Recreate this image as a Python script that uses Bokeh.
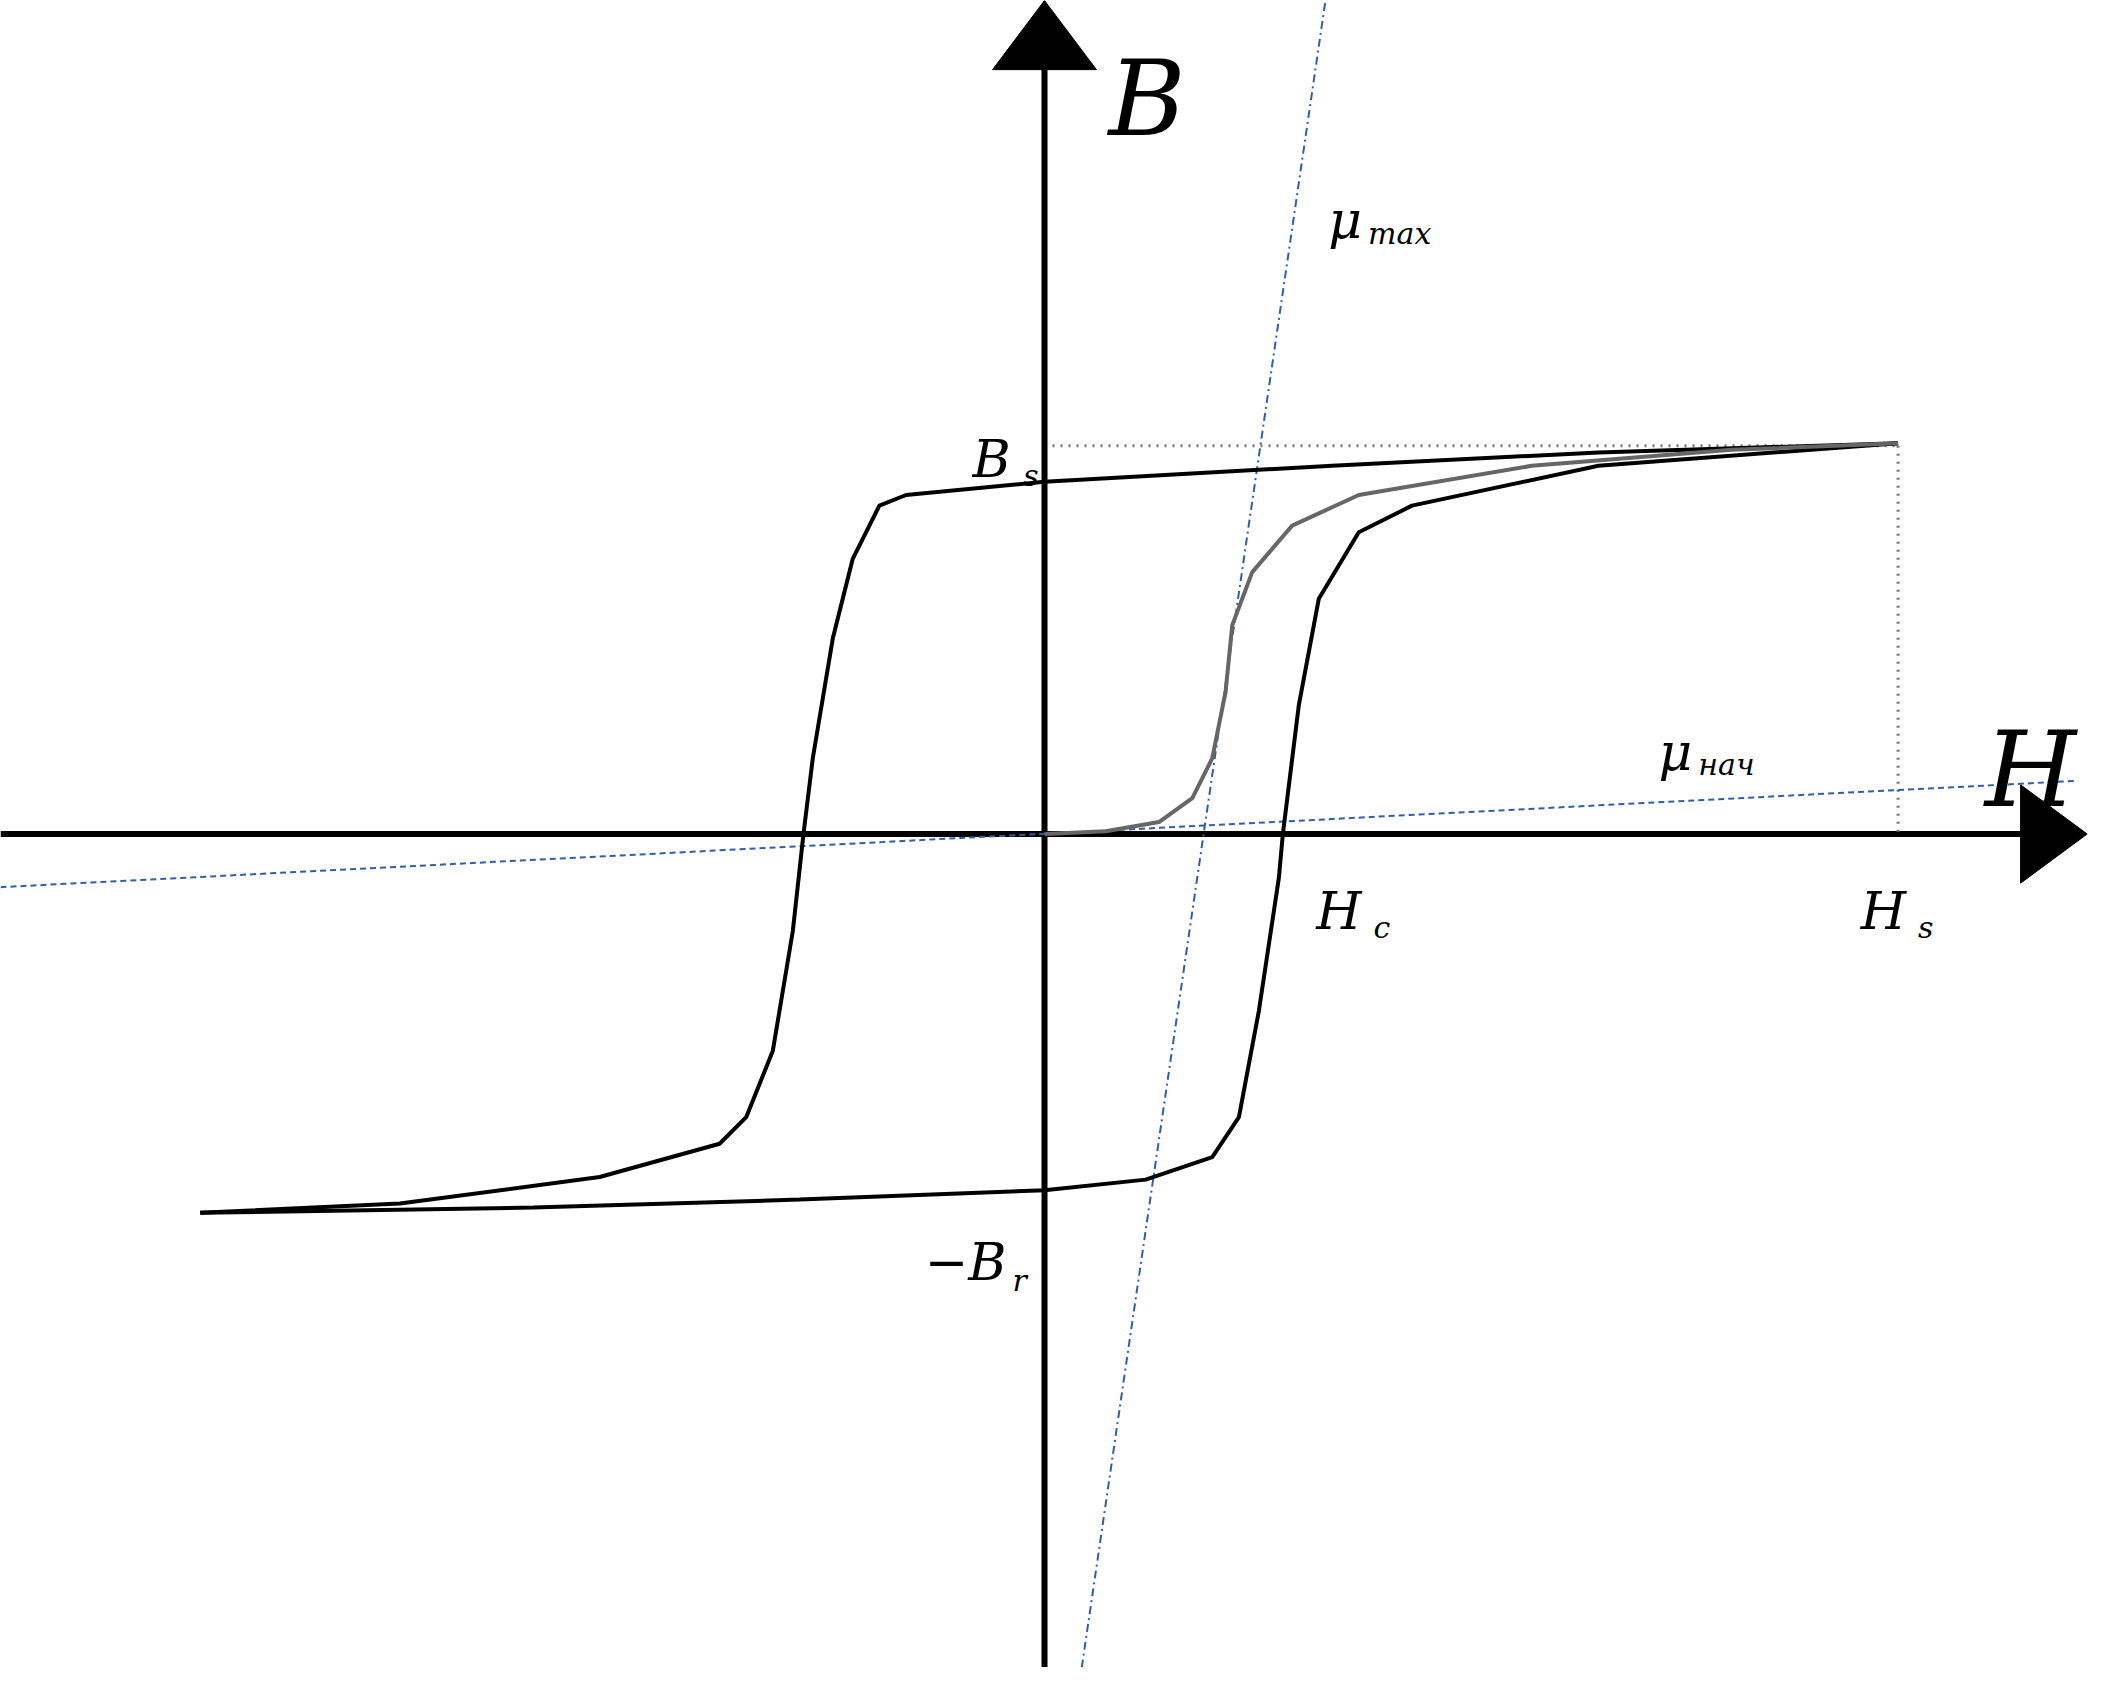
from bokeh.plotting import figure
from bokeh.embed import file_html
from bokeh.resources import INLINE
from bokeh.core.properties import value

# coordinates: H to the right, B upward, origin at axis crossing
upper_H = [641, 416, 216, 0, -104, -124, -144, -159, -174, -181, -189, -204, -224, -244, -334, -484, -634]
upper_B = [294, 287, 277, 265, 255, 247, 207, 147, 57, 0, -73, -163, -213, -233, -258, -278, -285]
lower_H = [-634, -384, -184, 0, 76, 126, 146, 161, 176, 179, 191, 206, 236, 276, 416, 641]
lower_B = [-285, -281, -275, -268, -260, -243, -213, -133, -33, 0, 97, 177, 227, 247, 277, 294]
init_H = [0, 46, 86, 111, 126, 136, 141, 156, 186, 236, 366, 516, 641]
init_B = [0, 2, 9, 27, 57, 107, 157, 197, 232, 255, 277, 289, 294]
Bs, Br, Hc, Hs = 292, -268, 179, 641
mu_max_H = [28, 211]
mu_max_B = [-627, 627]
mu_init_H = [-784, 776]
mu_init_B = [-40, 40]

p = figure(width=2088, height=1667, x_range=(-784, 784), y_range=(-627, 627),
           output_backend="svg", toolbar_location=None, min_border=0)
p.axis.visible = False
p.grid.visible = False
p.outline_line_color = None

serif = value("DejaVu Serif")

# axes with arrows
p.line([-784, 740], [0, 0], line_width=6, color="black")
p.patch([733, 783, 733], [-37, 0, 37], color="black")
p.line([0, 0], [-627, 580], line_width=6, color="black")
p.patch([-39, 0, 39], [575, 627, 575], color="black")

# guides
p.line([6, Hs], [Bs, Bs], line_dash="2 6", line_width=3, color="#777777")
p.line([Hs, Hs], [Bs, 0], line_dash="2 6", line_width=3, color="#777777")
p.line(mu_max_H, mu_max_B, line_dash="8 4 2 4", line_width=2, color="#2f5fa8")
p.line(mu_init_H, mu_init_B, line_dash="6 4", line_width=2, color="#2f5fa8")

# loop
p.line(upper_H, upper_B, line_width=4, color="black")
p.line(lower_H, lower_B, line_width=4, color="black")
p.line(init_H, init_B, line_width=4, color="#666666")

def lab(x, y, t, size, anchor="bottom_left"):
    p.text([x], [y], text=[t], text_font=serif, text_font_style="italic",
           text_font_size=size, text_color="black", text_baseline="alphabetic")

lab(48, 553, "B", "105px")
lab(706, 48, "H", "105px")
lab(-54, Bs - 10, "B", "52px")
lab(-16, Bs - 22, "s", "30px")
lab(-90, -322, "−B", "52px")
lab(-24, -336, "r", "30px")
lab(Hc + 25, -58, "H", "52px")
lab(Hc + 68, -70, "c", "30px")
lab(Hs - 28, -58, "H", "52px")
lab(Hs + 15, -70, "s", "30px")
lab(213, 462, "μ", "52px")
lab(243, 452, "max", "30px")
lab(461, 62, "μ", "52px")
lab(491, 52, "нач", "30px")

open("out.html", "w").write(file_html(p, INLINE))
